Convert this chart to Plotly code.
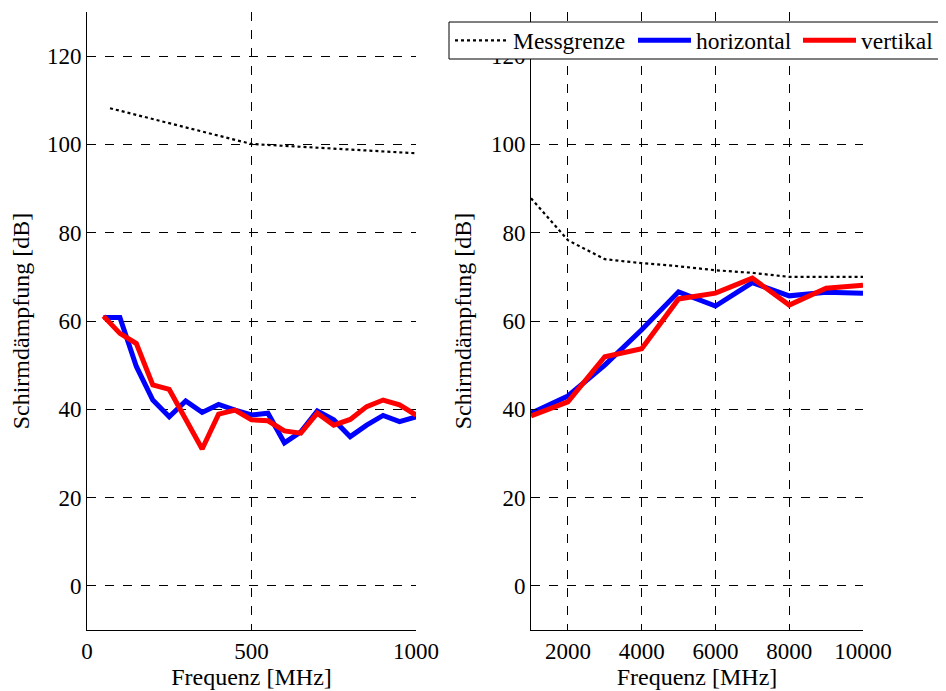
import plotly.graph_objects as go
from plotly.subplots import make_subplots

# ---- data: low frequency panel (MHz) ----
f_low = [50, 100, 150, 200, 250, 300, 350, 400, 450, 500,
         550, 600, 650, 700, 750, 800, 850, 900, 950, 1000]
h_low = [60.8, 60.8, 49.7, 42.1, 38.3, 41.9, 39.3, 41.1, 39.8, 38.7,
         39.1, 32.4, 34.9, 39.6, 37.6, 33.8, 36.4, 38.6, 37.2, 38.3]
v_low = [61.1, 57.2, 54.9, 45.5, 44.5, 38.0, 31.0, 38.9, 39.8, 37.6,
         37.4, 35.1, 34.6, 39.1, 36.4, 37.7, 40.6, 42.1, 41.0, 38.7]
fm_low = [70, 500, 1000]
m_low = [108.2, 100.1, 98.0]

# ---- data: high frequency panel (MHz) ----
f_high = [1000, 2000, 3000, 4000, 5000, 6000, 7000, 8000, 9000, 10000]
h_high = [39.1, 43.0, 50.0, 58.0, 66.6, 63.4, 68.7, 65.7, 66.5, 66.3]
v_high = [38.5, 41.7, 51.9, 53.7, 65.0, 66.3, 69.7, 63.6, 67.4, 68.1]
m_high = [87.8, 78.3, 74.0, 73.1, 72.4, 71.5, 70.9, 70.0, 70.0, 70.0]

names = ["Messgrenze", "horizontal", "vertikal"]
xlabel = "Frequenz [MHz]"
ylabel = "Schirmdämpfung [dB]"

FONT = "Liberation Serif"
FS_TICK = 23
FS = 24
FS_LEG = 23.5

fig = make_subplots(rows=1, cols=2)

dot = dict(color="black", width=2.2, dash="dot")
blue = dict(color="#0000ff", width=5)
red = dict(color="#ff0000", width=5)
leg_w = [115, 97, 71]

fig.add_trace(go.Scatter(x=fm_low, y=m_low, mode="lines", line=dot, name=names[0],
                         showlegend=True, legendwidth=leg_w[0]), 1, 1)
fig.add_trace(go.Scatter(x=f_low, y=h_low, mode="lines", line=blue, name=names[1],
                         showlegend=True, legendwidth=leg_w[1]), 1, 1)
fig.add_trace(go.Scatter(x=f_low, y=v_low, mode="lines", line=red, name=names[2],
                         showlegend=True, legendwidth=leg_w[2]), 1, 1)
fig.add_trace(go.Scatter(x=f_high, y=m_high, mode="lines", line=dot, name=names[0], showlegend=False), 1, 2)
fig.add_trace(go.Scatter(x=f_high, y=h_high, mode="lines", line=blue, name=names[1], showlegend=False), 1, 2)
fig.add_trace(go.Scatter(x=f_high, y=v_high, mode="lines", line=red, name=names[2], showlegend=False), 1, 2)

# page body has an 8px margin; figure is sized to fit the window
OFF = 8
W, H = 946 - OFF, 691 - OFF


def px_x(p):
    return (p - OFF) / W


def px_y(p):
    return 1 - (p - OFF) / H


common_ax = dict(
    showline=True, linecolor="black", linewidth=1, mirror=False,
    ticks="inside", ticklen=6, tickcolor="black",
    showgrid=True, gridcolor="black", griddash="dash", gridwidth=1,
    zeroline=False, automargin=False,
    tickfont=dict(family=FONT, size=FS_TICK, color="black"),
)

fig.update_xaxes(common_ax)
fig.update_yaxes(common_ax)

tfont = dict(family=FONT, size=FS, color="black")
fig.update_xaxes(range=[0, 1000], tick0=0, dtick=500, domain=[px_x(87), px_x(416)],
                 tickformat="d", title=dict(text=xlabel, font=tfont, standoff=3),
                 row=1, col=1)
fig.update_xaxes(range=[1000, 10000], tick0=0, dtick=2000, domain=[px_x(531), px_x(863)],
                 tickformat="d", title=dict(text=xlabel, font=tfont, standoff=3),
                 row=1, col=2)
for c in (1, 2):
    fig.update_yaxes(range=[-10, 130], tick0=0, dtick=20, domain=[px_y(630), px_y(12)],
                     title=dict(text=ylabel, font=tfont, standoff=12),
                     row=1, col=c)

# legend box (white, black border) drawn as a paper shape behind the legend entries
fig.add_shape(type="rect", xref="paper", yref="paper",
              x0=px_x(449), x1=px_x(943), y0=px_y(59), y1=px_y(22),
              fillcolor="white", line=dict(color="black", width=1), layer="above")

fig.update_layout(
    width=W, height=H,
    margin=dict(l=0, r=0, t=0, b=0, autoexpand=False),
    paper_bgcolor="white", plot_bgcolor="white",
    font=dict(family=FONT, size=FS, color="black"),
    legend=dict(
        orientation="h", x=px_x(450), y=px_y(40.5), xanchor="left", yanchor="middle",
        bgcolor="rgba(0,0,0,0)", borderwidth=0,
        font=dict(family=FONT, size=FS_LEG, color="black"),
        itemwidth=53, tracegroupgap=0,
    ),
)

fig.write_html("out.html")
